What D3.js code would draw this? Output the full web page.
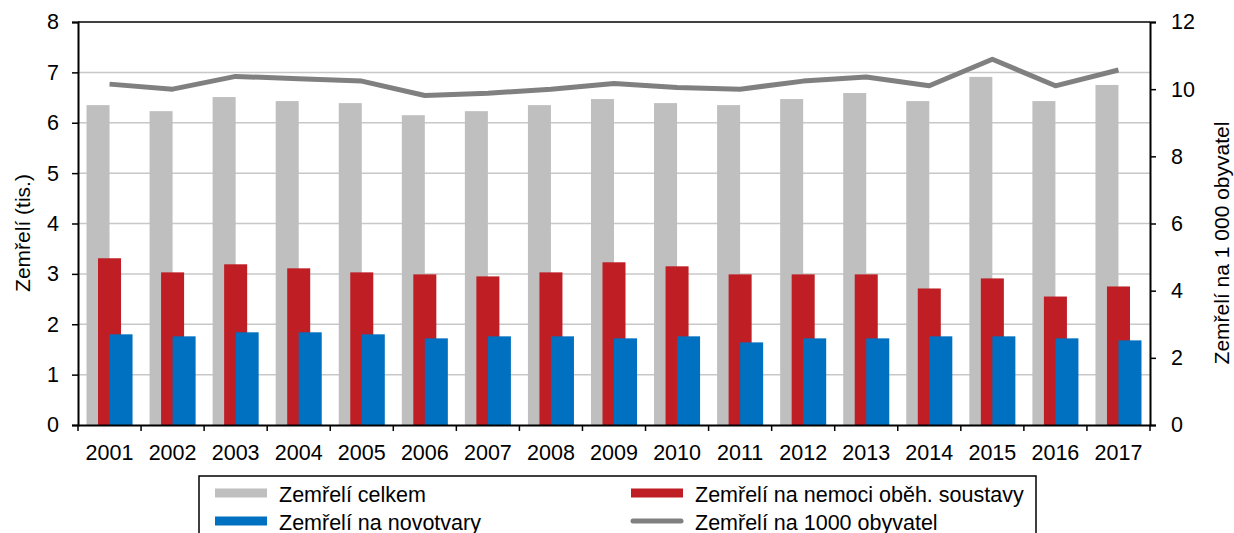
<!DOCTYPE html>
<html>
<head>
<meta charset="utf-8">
<script src="https://cdn.jsdelivr.net/npm/d3@7"></script>
<style>
  body { margin: 0; background: #fff; }
  svg { font-family: "Liberation Sans", Arial, sans-serif; }
</style>
</head>
<body>
<div class="chart"></div>
<script>
var years = ["2001", "2002", "2003", "2004", "2005", "2006", "2007", "2008", "2009",
             "2010", "2011", "2012", "2013", "2014", "2015", "2016", "2017"];
// thousands
var total = [6.35, 6.23, 6.51, 6.43, 6.39, 6.15, 6.23, 6.35, 6.47, 6.39, 6.35, 6.47, 6.59, 6.43, 6.91, 6.43, 6.75];
var circulatory = [3.31, 3.03, 3.19, 3.11, 3.03, 2.99, 2.95, 3.03, 3.23, 3.15, 2.99, 2.99, 2.99, 2.71, 2.91, 2.55, 2.75];
var neoplasms = [1.80, 1.76, 1.84, 1.84, 1.80, 1.72, 1.76, 1.76, 1.72, 1.76, 1.64, 1.72, 1.72, 1.76, 1.76, 1.72, 1.68];
// per 1000 inhabitants
var rate = [10.15, 10.0, 10.38, 10.31, 10.24, 9.81, 9.88, 10.0, 10.17, 10.05, 10.0, 10.24, 10.36, 10.1, 10.89, 10.1, 10.57];

var leftTicks = [0, 1, 2, 3, 4, 5, 6, 7, 8];
var rightTicks = [0, 2, 4, 6, 8, 10, 12];

var W = 1234, H = 533;
var margin = { top: 22, right: 84, bottom: 108, left: 78 },
    width = W - margin.left - margin.right,
    height = H - margin.top - margin.bottom;

var svg = d3.select(".chart").append("svg")
    .attr("width", W)
    .attr("height", H);

var g = svg.append("g")
    .attr("transform", "translate(" + margin.left + "," + margin.top + ")");

var x = d3.scaleBand().domain(years).range([0, width]).padding(0);
var y = d3.scaleLinear().domain([0, 8]).range([height, 0]);
var y2 = d3.scaleLinear().domain([0, 12]).range([height, 0]);

var bw = x.bandwidth() * 0.365;

// gridlines
g.selectAll(".grid")
    .data(leftTicks.filter(function (d) { return d > 0 && d < 8; }))
    .enter().append("line")
    .attr("x1", 0).attr("x2", width)
    .attr("y1", function (d) { return y(d); })
    .attr("y2", function (d) { return y(d); })
    .attr("stroke", "#c8c8c8")
    .attr("stroke-width", 1.5);

// bars
function bars(data, color, offset) {
    g.append("g").selectAll("rect")
        .data(data)
        .enter().append("rect")
        .attr("x", function (d, i) { return x(years[i]) + x.bandwidth() / 2 + offset; })
        .attr("width", bw)
        .attr("y", function (d) { return y(d); })
        .attr("height", function (d) { return height - y(d); })
        .attr("fill", color);
}
bars(total, "#bfbfbf", -bw);
bars(circulatory, "#be1e24", -bw / 2);
bars(neoplasms, "#0070c0", 0);

// line
var line = d3.line()
    .x(function (d, i) { return x(years[i]) + x.bandwidth() / 2; })
    .y(function (d) { return y2(d); });

g.append("path")
    .datum(rate)
    .attr("d", line)
    .attr("fill", "none")
    .attr("stroke", "#808080")
    .attr("stroke-width", 5)
    .attr("stroke-linejoin", "round");

// frame top
g.append("line").attr("x1", 0).attr("x2", width).attr("y1", 0).attr("y2", 0)
    .attr("stroke", "#000").attr("stroke-width", 1.5);

// axes
var leftAxis = g.append("g")
    .call(d3.axisLeft(y).tickValues(leftTicks).tickSize(6).tickPadding(13));
var rightAxis = g.append("g")
    .attr("transform", "translate(" + width + ",0)")
    .call(d3.axisRight(y2).tickValues(rightTicks).tickSize(6).tickPadding(15));
var bottomAxis = g.append("g")
    .attr("transform", "translate(0," + height + ")")
    .call(d3.axisBottom(x).tickSize(0).tickPadding(20));

// category boundary ticks
g.append("g").selectAll("line")
    .data(d3.range(years.length + 1))
    .enter().append("line")
    .attr("x1", function (i) { return i * x.step(); })
    .attr("x2", function (i) { return i * x.step(); })
    .attr("y1", height).attr("y2", height + 6)
    .attr("stroke", "#000").attr("stroke-width", 1.5);

[leftAxis, rightAxis, bottomAxis].forEach(function (a) {
    a.attr("font-size", 21.5).attr("font-family", null);
    a.selectAll(".domain").attr("stroke", "#000").attr("stroke-width", 2);
    a.selectAll(".tick line").attr("stroke", "#000").attr("stroke-width", 1.5);
    a.selectAll("text").attr("fill", "#000");
});

// axis titles
svg.append("text")
    .attr("transform", "translate(30,233) rotate(-90)")
    .attr("text-anchor", "middle")
    .attr("font-size", 21)
    .text("Zemřelí (tis.)");

svg.append("text")
    .attr("transform", "translate(1229,243) rotate(-90)")
    .attr("text-anchor", "middle")
    .attr("font-size", 21)
    .text("Zemřelí na 1 000 obyvatel");

// legend
var legend = svg.append("g").attr("class", "legend");
legend.append("rect")
    .attr("x", 199).attr("y", 476)
    .attr("width", 837).attr("height", 70)
    .attr("fill", "#fff").attr("stroke", "#000").attr("stroke-width", 1.5);

var legendItems = [
    { label: "Zemřelí celkem", color: "#bfbfbf", type: "bar", lx: 215, ly: 493 },
    { label: "Zemřelí na nemoci oběh. soustavy", color: "#be1e24", type: "bar", lx: 631, ly: 493 },
    { label: "Zemřelí na novotvary", color: "#0070c0", type: "bar", lx: 215, ly: 521 },
    { label: "Zemřelí na 1000 obyvatel", color: "#808080", type: "line", lx: 631, ly: 521 }
];

legendItems.forEach(function (d) {
    if (d.type === "bar") {
        legend.append("rect")
            .attr("x", d.lx).attr("y", d.ly - 4.5)
            .attr("width", 52).attr("height", 9)
            .attr("fill", d.color);
    } else {
        legend.append("line")
            .attr("x1", d.lx + 2).attr("x2", d.lx + 50)
            .attr("y1", d.ly).attr("y2", d.ly)
            .attr("stroke", d.color).attr("stroke-width", 5)
            .attr("stroke-linecap", "round");
    }
    legend.append("text")
        .attr("x", d.lx + 64).attr("y", d.ly + 8.5)
        .attr("font-size", 21.5)
        .text(d.label);
});
</script>
</body>
</html>
